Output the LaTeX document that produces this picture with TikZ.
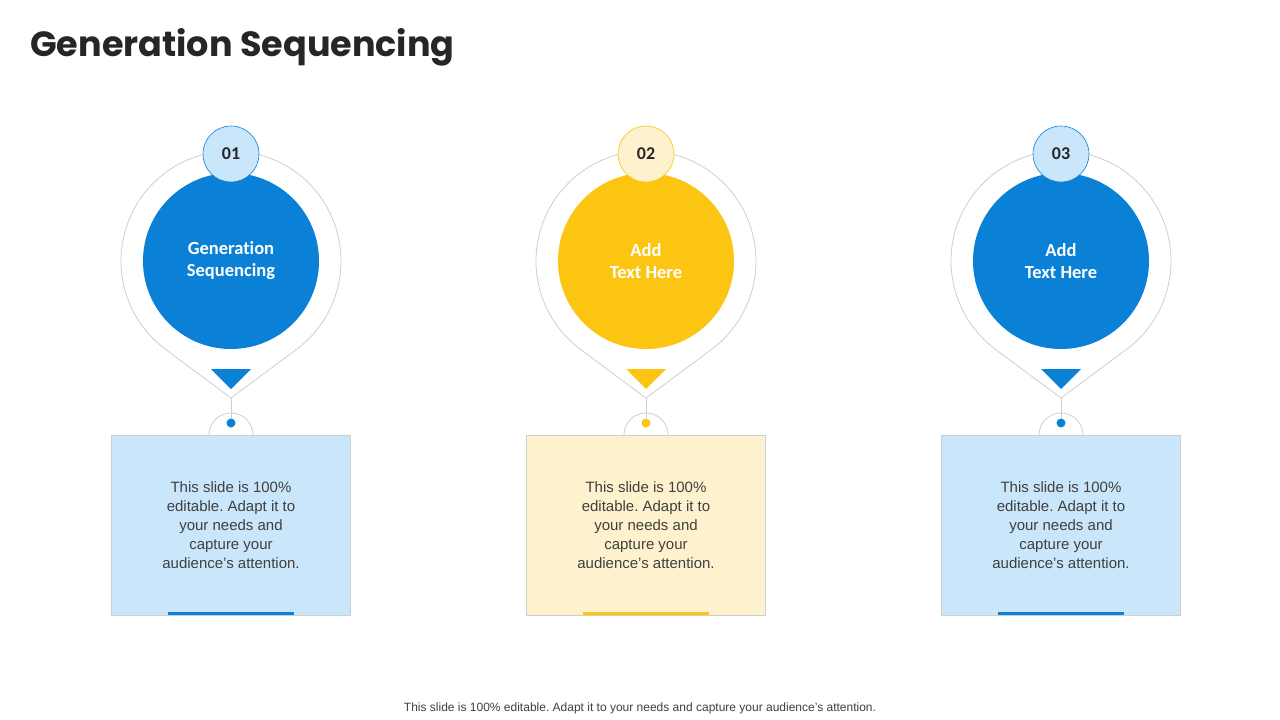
\documentclass[tikz,border=0pt]{standalone}
\usepackage{fontspec}
\setmainfont{Liberation Sans}
\newfontfamily\titlefont{Poppins}
\newfontfamily\calfont[Ligatures=NoCommon]{Carlito}
\definecolor{cblue}{HTML}{0A80D6}
\definecolor{cyel}{HTML}{FBC512}
\definecolor{lblue}{HTML}{C9E6FB}
\definecolor{lyel}{HTML}{FEF1CE}
\definecolor{gline}{HTML}{CFCFCF}
\definecolor{txt}{HTML}{404040}
\frenchspacing
\tikzset{
 bodytext/.style={align=center,font=\fontsize{15}{19}\selectfont,text=txt},
 numtext/.style={font=\calfont\bfseries\fontsize{18}{20}\selectfont,text=black!85},
 intext/.style={font=\calfont\bfseries\fontsize{18.5}{22}\selectfont,text=white,align=center}
}
\newcommand{\pin}[6]{% x, dark, light, number, label text, name
 \begin{scope}[shift={(#1,0)}]
  \draw[gline,line width=0.8pt,fill=white] (0,-398) -- ({110*cos(-53.4)},{-261+110*sin(-53.4)}) arc[start angle=-53.4,end angle=233.4,radius=110] -- cycle;
  \node[circle,fill=#2,minimum size=176pt,inner sep=0pt,intext] (#6c) at (0,-261) {#5};
  \node[circle,fill=#3,draw=#2,line width=0.6pt,minimum size=56pt,inner sep=0pt,numtext] (#6n) at (0,-154) {#4};
  \fill[#2] (-20,-369) -- (20,-369) -- (0,-389) -- cycle;
  \coordinate (#6a) at (0,-398);
  \node[circle,fill=#2,minimum size=9pt,inner sep=0pt] (#6d) at (0,-423) {};
  \draw[gline,line width=0.8pt] (#6a) -- (#6d);
  \draw[gline,line width=0.8pt] (-22,-435) arc[start angle=180,end angle=0,radius=22];
  \node[draw=gline,fill=#3,line width=0.8pt,minimum width=239pt,minimum height=180pt,inner sep=0pt,anchor=north] (#6b) at (0,-435) {};
  \node[bodytext] at (0,-525) {This slide is 100\%\\ editable. Adapt it to\\ your needs and\\ capture your\\ audience's attention.};
  \draw[#2,line width=3pt] (-63,-613.5) -- (63,-613.5);
 \end{scope}}
\begin{document}
\begin{tikzpicture}[x=1pt,y=1pt]
\useasboundingbox (0,0) rectangle (1280,-720);
\fill[white] (0,0) rectangle (1280,-720);
\node[anchor=west,inner sep=0pt,font=\titlefont\bfseries\fontsize{35}{40}\selectfont,text=black!85] (title) at (30,-47) {Generation Sequencing};
\pin{231}{cblue}{lblue}{01}{Generation\\Sequencing}{p1}
\pin{646}{cyel}{lyel}{02}{Add\\Text Here}{p2}
\pin{1061}{cblue}{lblue}{03}{Add\\Text Here}{p3}
\node[font=\fontsize{12}{14}\selectfont,text=txt] (foot) at (640,-708) {This slide is 100\% editable. Adapt it to your needs and capture your audience's attention.};
\end{tikzpicture}
\end{document}
